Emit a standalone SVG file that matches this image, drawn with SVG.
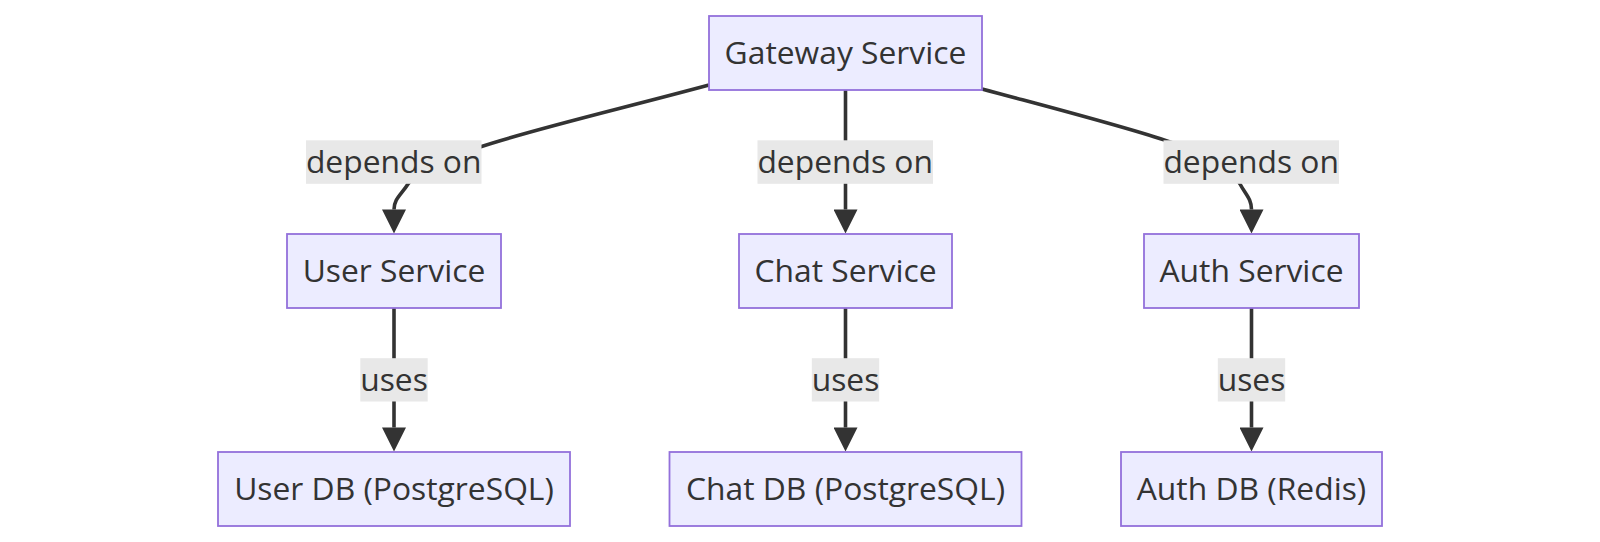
<svg xmlns="http://www.w3.org/2000/svg" width="1600" height="542" viewBox="0 0 1600 542">
<style>
.node rect{fill:#ECECFF;stroke:#9370DB;stroke-width:1.8}
.node text,.label text{font-family:"Open Sans","Liberation Sans",sans-serif;font-size:31.8px;fill:#333333;text-anchor:middle}
.edge{fill:none;stroke:#333333;stroke-width:3.6}
.label rect{fill:#E8E8E8}
</style>
<defs>
<marker id="arrow" viewBox="0 0 10 10" refX="0" refY="5" markerUnits="userSpaceOnUse" markerWidth="25" markerHeight="24" orient="auto">
<path d="M0,0 L10,5 L0,10 z" fill="#333333"/>
</marker>
</defs>
<g id="connectors">
<path class="edge" d="M709,85 C620,109 530,130 480,147 C440,160 416,171 408,184 C401,195 394,199 394,209.5" marker-end="url(#arrow)"/>
<path class="edge" d="M845.5,90 L845.5,209.5" marker-end="url(#arrow)"/>
<path class="edge" d="M982,89 C1060,110 1130,128 1170,142 C1210,155 1233,168 1240,184 C1246,195 1251.5,199 1251.5,209.5" marker-end="url(#arrow)"/>
<path class="edge" d="M394,308 L394,427.5" marker-end="url(#arrow)"/>
<path class="edge" d="M845.5,308 L845.5,427.5" marker-end="url(#arrow)"/>
<path class="edge" d="M1251.5,308 L1251.5,427.5" marker-end="url(#arrow)"/>
<g class="label"><rect x="306" y="140.3" width="175.5" height="43.5"/><text x="393.7" y="173.3">depends on</text></g>
<g class="label"><rect x="757.5" y="140.3" width="175.5" height="43.5"/><text x="845.2" y="173.3">depends on</text></g>
<g class="label"><rect x="1163.5" y="140.3" width="175.5" height="43.5"/><text x="1251.2" y="173.3">depends on</text></g>
<g class="label"><rect x="360.3" y="358.2" width="67.4" height="43.3"/><text x="394" y="391.3">uses</text></g>
<g class="label"><rect x="811.8" y="358.2" width="67.4" height="43.3"/><text x="845.5" y="391.3">uses</text></g>
<g class="label"><rect x="1217.8" y="358.2" width="67.4" height="43.3"/><text x="1251.5" y="391.3">uses</text></g>
</g>
<g id="gateway" class="node"><rect x="709" y="16" width="273" height="74"/><text x="845.5" y="64.3">Gateway Service</text></g>
<g id="user" class="node"><rect x="287" y="234" width="214" height="74"/><text x="394" y="282.3">User Service</text></g>
<g id="chat" class="node"><rect x="739" y="234" width="213" height="74"/><text x="845.5" y="282.3">Chat Service</text></g>
<g id="auth" class="node"><rect x="1144" y="234" width="215" height="74"/><text x="1251.5" y="282.3">Auth Service</text></g>
<g id="userdb" class="node"><rect x="218" y="452" width="352" height="74"/><text x="394" y="500.3">User DB (PostgreSQL)</text></g>
<g id="chatdb" class="node"><rect x="669.5" y="452" width="352" height="74"/><text x="845.5" y="500.3">Chat DB (PostgreSQL)</text></g>
<g id="authdb" class="node"><rect x="1121" y="452" width="261" height="74"/><text x="1251.5" y="500.3">Auth DB (Redis)</text></g>
</svg>
